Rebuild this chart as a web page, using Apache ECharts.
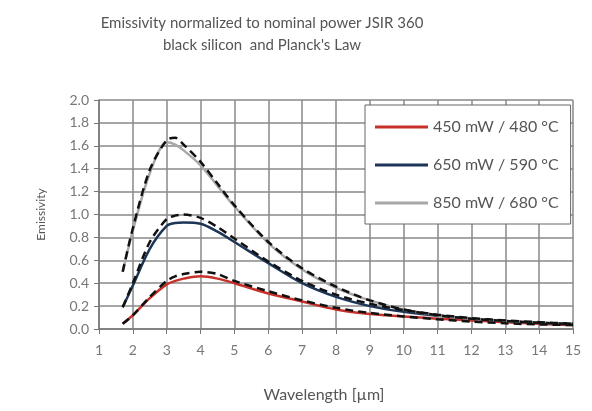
<!DOCTYPE html>
<html>
<head>
<meta charset="utf-8">
<script src="https://cdn.jsdelivr.net/npm/echarts@6/dist/echarts.min.js"></script>
<style>html,body{margin:0;padding:0;background:#fff}#c{width:592px;height:411px}</style>
</head>
<body>
<div id="c"></div>
<script>
const wavelengths = [1.7, 2.0, 2.5, 3.0, 3.25, 3.5, 4.0, 4.5, 5.0, 6.0, 7.0, 8.0, 9.0, 10, 11, 12, 13, 14, 15];
const measured450 = [0.045, 0.12, 0.27, 0.39, 0.42, 0.44, 0.46, 0.44, 0.40, 0.31, 0.24, 0.17, 0.13, 0.11, 0.09, 0.075, 0.06, 0.045, 0.035];
const measured650 = [0.19, 0.38, 0.70, 0.90, 0.925, 0.93, 0.92, 0.85, 0.76, 0.575, 0.40, 0.28, 0.20, 0.15, 0.115, 0.09, 0.07, 0.055, 0.04];
const measured850 = [0.50, 0.86, 1.36, 1.63, 1.61, 1.56, 1.43, 1.25, 1.07, 0.75, 0.52, 0.36, 0.25, 0.17, 0.12, 0.09, 0.07, 0.055, 0.045];
const planck480 = [0.045, 0.12, 0.28, 0.42, 0.46, 0.48, 0.50, 0.48, 0.42, 0.33, 0.25, 0.185, 0.14, 0.11, 0.085, 0.065, 0.05, 0.04, 0.035];
const planck590 = [0.19, 0.40, 0.76, 0.96, 0.99, 1.00, 0.97, 0.89, 0.79, 0.59, 0.42, 0.30, 0.22, 0.165, 0.125, 0.095, 0.075, 0.06, 0.045];
const planck680 = [0.50, 0.88, 1.39, 1.65, 1.67, 1.61, 1.46, 1.27, 1.08, 0.76, 0.53, 0.37, 0.25, 0.17, 0.12, 0.09, 0.07, 0.055, 0.045];
const legendNames = ['450 mW / 480 °C', '650 mW / 590 °C', '850 mW / 680 °C'];
const titleLines = ['Emissivity normalized to nominal power JSIR 360', 'black silicon  and Planck\'s Law'];

const pairs = v => wavelengths.map((x, i) => [x, v[i]]);
const FONT = 'Lato';
const solid = (name, color, vals) => ({
  name, type: 'line', data: pairs(vals), smooth: 0.3, showSymbol: false, symbol: 'none',
  lineStyle: { color, width: 2.5 }, itemStyle: { color }, z: 2
});
const dashed = (name, vals) => ({
  name, type: 'line', data: pairs(vals), smooth: 0.3, showSymbol: false, symbol: 'none',
  lineStyle: { color: '#111', width: 2.5, type: [8, 5] }, itemStyle: { color: '#111' }, z: 3
});

const chart = echarts.init(document.getElementById('c'), null, { renderer: 'canvas' });
chart.setOption({
  animation: false,
  backgroundColor: '#fff',
  textStyle: { fontFamily: FONT },
  graphic: [{
    type: 'text', x: 262, y: 12, z: 10,
    style: { text: titleLines.join('\n'), textAlign: 'center', fill: '#555', font: '15px Lato', lineHeight: 22 }
  }],
  grid: { left: 99, right: 19, top: 100, bottom: 82, containLabel: false },
  legend: {
    data: legendNames, orient: 'vertical', left: 365, top: 105,
    backgroundColor: '#fff', borderColor: '#666', borderWidth: 1,
    padding: [14, 12, 13, 10], itemGap: 22, itemWidth: 53, itemHeight: 3, icon: 'rect',
    textStyle: { fontFamily: FONT, fontSize: 16, color: '#555' }, z: 5
  },
  xAxis: {
    type: 'value', min: 1, max: 15, interval: 1,
    name: 'Wavelength [µm]', nameLocation: 'middle', nameGap: 58,
    nameTextStyle: { fontFamily: FONT, fontSize: 16, color: '#555', padding: [0, 24, 0, 0] },
    axisLine: { show: true, lineStyle: { color: '#777', width: 1.5 } },
    axisTick: { show: true, inside: false, length: 5, lineStyle: { color: '#777' } },
    axisLabel: { fontFamily: FONT, fontSize: 14, color: '#777', margin: 14 },
    splitLine: { show: true, lineStyle: { color: '#888', width: 1.5 } }
  },
  yAxis: {
    type: 'value', min: 0, max: 2, interval: 0.2,
    name: 'Emissivity', nameLocation: 'middle', nameGap: 52,
    nameTextStyle: { fontFamily: FONT, fontSize: 12, color: '#555' },
    axisLine: { show: true, lineStyle: { color: '#777', width: 1.5 } },
    axisTick: { show: true, length: 5, lineStyle: { color: '#777' } },
    axisLabel: { fontFamily: FONT, fontSize: 14, color: '#777', margin: 10, formatter: v => v.toFixed(1) },
    splitLine: { show: true, lineStyle: { color: '#888', width: 1.5 } }
  },
  series: [
    solid(legendNames[0], '#c8302a', measured450),
    solid(legendNames[1], '#1d3557', measured650),
    solid(legendNames[2], '#a8a8a8', measured850),
    dashed('Planck 480 °C', planck480),
    dashed('Planck 590 °C', planck590),
    dashed('Planck 680 °C', planck680)
  ]
});
</script>
</body>
</html>
